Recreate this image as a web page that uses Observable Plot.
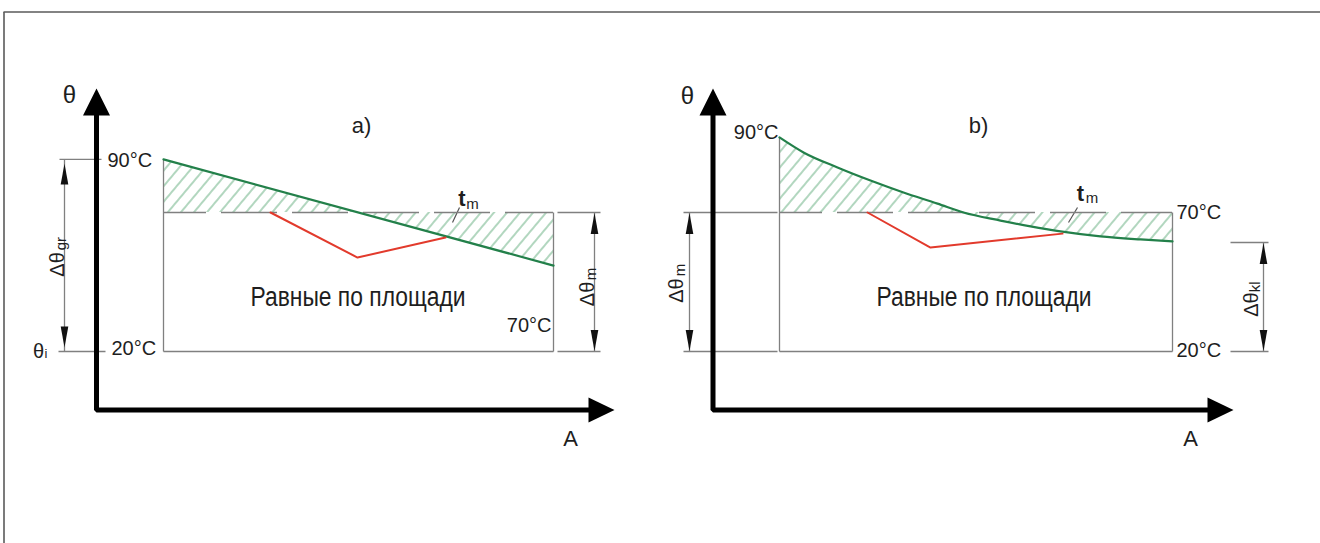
<!DOCTYPE html>
<html>
<head>
<meta charset="utf-8">
<script src="https://cdn.jsdelivr.net/npm/d3@7"></script>
<script src="https://cdn.jsdelivr.net/npm/@observablehq/plot@0.6"></script>
<style>
  html, body { margin: 0; padding: 0; background: #fff; }
  #chart svg { display: block; }
</style>
</head>
<body>
<div id="chart"></div>
<script>
// ---------- values (A = position, T = temperature °C on the drawn scale) ----------
const tm = 70;        // mean temperature line tm
const thetaI = 20;    // θi
const axisT = -1.0;   // level of the A axis
const topT = 106;     // top of the θ axis shaft

// a) linear cooling curve and red comparison line
const greenA = [{A: 163, T: 89.1}, {A: 553, T: 50.9}];
const redA = [{A: 270, T: 70}, {A: 357, T: 53.8}, {A: 445, T: 61.0}];

// b) decaying cooling curve and red comparison line
const greenB = [
  {A: 779, T: 97.0}, {A: 803, T: 91.6}, {A: 837, T: 86.2}, {A: 870, T: 81.5},
  {A: 903, T: 77.2}, {A: 937, T: 73.2}, {A: 963, T: 70.0}, {A: 1000, T: 67.1},
  {A: 1030, T: 65.0}, {A: 1060, T: 63.2}, {A: 1100, T: 61.4}, {A: 1140, T: 60.3},
  {A: 1172, T: 59.6}
];
const redB = [{A: 867, T: 70}, {A: 930, T: 57.4}, {A: 1062, T: 62.4}];

// main axes (polylines: θ axis down to the corner, then along A)
const axes = [
  {p: "a", A: 96, T: topT}, {p: "a", A: 96, T: axisT}, {p: "a", A: 592, T: axisT},
  {p: "b", A: 712.5, T: topT}, {p: "b", A: 712.5, T: axisT}, {p: "b", A: 1210, T: axisT}
];
const axisTipsUp = [{A: 96, T: 114.6}, {A: 712.5, T: 114.6}];
const axisTipsRight = [{A: 614, T: axisT}, {A: 1233, T: axisT}];

// box edges
const boxEdges = [
  {x1: 163, y1: 89.1, x2: 163, y2: thetaI}, {x1: 163, y1: thetaI, x2: 553, y2: thetaI},
  {x1: 553, y1: tm, x2: 553, y2: thetaI},
  {x1: 779, y1: 97.0, x2: 779, y2: thetaI}, {x1: 779, y1: thetaI, x2: 1172, y2: thetaI},
  {x1: 1172, y1: tm, x2: 1172, y2: thetaI}
];
// extension lines
const extLines = [
  {x1: 59, y1: 89.1, x2: 101, y2: 89.1}, {x1: 58, y1: thetaI, x2: 105, y2: thetaI},
  {x1: 557, y1: tm, x2: 600, y2: tm}, {x1: 557, y1: thetaI, x2: 600, y2: thetaI},
  {x1: 683, y1: tm, x2: 777, y2: tm}, {x1: 683, y1: thetaI, x2: 777, y2: thetaI},
  {x1: 1230, y1: 59.2, x2: 1268, y2: 59.2}, {x1: 1230, y1: thetaI, x2: 1268, y2: thetaI}
];
// dimension lines
const dimLines = [
  {x1: 64, y1: 89.1, x2: 64, y2: thetaI}, {x1: 594, y1: tm, x2: 594, y2: thetaI},
  {x1: 689, y1: tm, x2: 689, y2: thetaI}, {x1: 1263, y1: 59.2, x2: 1263, y2: thetaI}
];
const dimTipsUp = [{A: 64, T: 87.6}, {A: 594, T: 69.8}, {A: 689, T: 69.8}, {A: 1263, T: 59.0}];
const dimTipsDown = [{A: 64, T: 21.4}, {A: 594, T: 20.2}, {A: 689, T: 20.2}, {A: 1263, T: 20.2}];
// tm leader strokes
const leaders = [{x1: 452, y1: 66.4, x2: 459, y2: 71.8}, {x1: 1068, y1: 66.4, x2: 1077, y2: 71.8}];
// mean-temperature lines
const tmLines = [{x1: 163, x2: 553}, {x1: 779, x2: 1172}];

// ---------- texts ----------
const tempStart = [
  {A: 107, T: 88.7, s: "90°C"}, {A: 111, T: 20.9, s: "20°C"},
  {A: 1176, T: 70.0, s: "70°C"}, {A: 1176, T: 20.2, s: "20°C"}
];
const tempEnd = [{A: 551, T: 29.2, s: "70°C"}, {A: 778, T: 98.8, s: "90°C"}];
const axisNames = [{A: 69, T: 112.1, s: "θ"}, {A: 687, T: 111.9, s: "θ"}];
const axisNamesA = [{A: 570, T: -11.3, s: "A"}, {A: 1190, T: -11.3, s: "A"}];
const panelTitles = [{A: 361, T: 101.3, s: "a)"}, {A: 978, T: 101.3, s: "b)"}];
const areaNotes = [{A: 357.5, T: 39.4, s: "Равные по площади"}, {A: 983.5, T: 39.4, s: "Равные по площади"}];
const dimSymbols = [
  {A: 57.5, T: 51.3, s: "Δθ"}, {A: 587.5, T: 40.7, s: "Δθ"},
  {A: 676, T: 41.9, s: "Δθ"}, {A: 1251, T: 36.9, s: "Δθ"}
];
const dimSubs = [
  {A: 61, T: 58.8, s: "gr"}, {A: 591, T: 47.9, s: "m"},
  {A: 680, T: 49.3, s: "m"}, {A: 1255, T: 43.3, s: "kl"}
];
const thetaIMain = [{A: 38, T: 20.1, s: "θ"}];
const thetaISub = [{A: 45.5, T: 19.1, s: "i"}];
const tmMain = [{A: 461.5, T: 74.7, s: "t"}, {A: 1080, T: 76.5, s: "t"}];
const tmSub = [{A: 472, T: 72.9, s: "m"}, {A: 1091.5, T: 75.0, s: "m"}];
const frameTop = [{x1: 3, y1: 142.1, x2: 1320, y2: 142.1}, {x1: 3.5, y1: 142.1, x2: 3.5, y2: -49.1}];

// ---------- symbols ----------
const bigUp = {draw(c) { c.moveTo(0, 0); c.lineTo(-13.5, 27); c.lineTo(13.5, 27); c.closePath(); }};
const bigRight = {draw(c) { c.moveTo(0, 0); c.lineTo(-26, -12.5); c.lineTo(-26, 12.5); c.closePath(); }};
const smallUp = {draw(c) { c.moveTo(0, 0); c.lineTo(-3.8, 21); c.lineTo(3.8, 21); c.closePath(); }};
const smallDown = {draw(c) { c.moveTo(0, 0); c.lineTo(-3.8, -21); c.lineTo(3.8, -21); c.closePath(); }};

const ink = "#1e1e1e";
const gray = "#808080";
const green = "#23804a";
const red = "#e23a2c";
const seg = {x1: "x1", y1: "y1", x2: "x2", y2: "y2"};
const txt = {x: "A", y: "T", text: "s", fill: ink};

const svg = Plot.plot({
  width: 1320,
  height: 543,
  margin: 0,
  x: {domain: [0, 1320], range: [0, 1320], axis: null},
  y: {domain: [20, 70], range: [351, 212], axis: null},
  style: {fontFamily: "'Liberation Sans', Arial, sans-serif", background: "#fff", overflow: "visible"},
  marks: [
    Plot.link(frameTop, {...seg, stroke: "#5a5a5a", strokeWidth: 1.6}),
    // hatched areas between cooling curve and tm
    Plot.areaY(greenA, {x: "A", y1: tm, y2: "T", fill: "url(#hatch)"}),
    Plot.areaY(greenB, {x: "A", y1: tm, y2: "T", curve: "monotone-x", fill: "url(#hatch)"}),
    // thin construction lines
    Plot.link(boxEdges, {...seg, stroke: gray, strokeWidth: 1.3}),
    Plot.link(extLines, {...seg, stroke: gray, strokeWidth: 1.3}),
    Plot.link(dimLines, {...seg, stroke: gray, strokeWidth: 1.3}),
    Plot.link(leaders, {...seg, stroke: "#555", strokeWidth: 1.2}),
    Plot.ruleY(tmLines, {y: () => tm, x1: "x1", x2: "x2", stroke: gray, strokeWidth: 1.4, strokeDasharray: "56,15", strokeDashoffset: 13}),
    // curves
    Plot.line(greenA, {x: "A", y: "T", stroke: green, strokeWidth: 2.2}),
    Plot.line(greenB, {x: "A", y: "T", curve: "monotone-x", stroke: green, strokeWidth: 2.2}),
    Plot.line(redA, {x: "A", y: "T", stroke: red, strokeWidth: 2}),
    Plot.line(redB, {x: "A", y: "T", stroke: red, strokeWidth: 2}),
    // main axes
    Plot.line(axes, {x: "A", y: "T", z: "p", stroke: "#000", strokeWidth: 5, strokeLinejoin: "miter"}),
    Plot.dot(axisTipsUp, {x: "A", y: "T", symbol: bigUp, fill: "#000", stroke: "none"}),
    Plot.dot(axisTipsRight, {x: "A", y: "T", symbol: bigRight, fill: "#000", stroke: "none"}),
    Plot.dot(dimTipsUp, {x: "A", y: "T", symbol: smallUp, fill: "#111", stroke: "none"}),
    Plot.dot(dimTipsDown, {x: "A", y: "T", symbol: smallDown, fill: "#111", stroke: "none"}),
    // texts
    Plot.text(tempStart, {...txt, textAnchor: "start", fontSize: 20}),
    Plot.text(tempEnd, {...txt, textAnchor: "end", fontSize: 20}),
    Plot.text(axisNames, {...txt, fontSize: 24}),
    Plot.text(axisNamesA, {...txt, fontSize: 22}),
    Plot.text(panelTitles, {...txt, fontSize: 22}),
    Plot.text(areaNotes, {...txt, fontSize: 27}),
    Plot.text(dimSymbols, {...txt, rotate: -90, fontSize: 20}),
    Plot.text(dimSubs, {...txt, rotate: -90, fontSize: 15}),
    Plot.text(thetaIMain, {...txt, fontSize: 20}),
    Plot.text(thetaISub, {...txt, fontSize: 13}),
    Plot.text(tmMain, {...txt, fontSize: 22, fontWeight: 600}),
    Plot.text(tmSub, {...txt, fontSize: 15})
  ]
});

// hatch pattern definition
const defs = d3.select(svg).insert("defs", ":first-child");
const pat = defs.append("pattern")
  .attr("id", "hatch")
  .attr("patternUnits", "userSpaceOnUse")
  .attr("width", 10).attr("height", 10)
  .attr("patternTransform", "rotate(40)");
pat.append("line")
  .attr("x1", 5).attr("y1", 0).attr("x2", 5).attr("y2", 10)
  .attr("stroke", "#72b58a").attr("stroke-width", 1.1);

// condensed look of the area note
d3.select(svg).selectAll("text")
  .filter(function () { return this.textContent === "Равные по площади"; })
  .attr("textLength", 215)
  .attr("lengthAdjust", "spacingAndGlyphs");

document.getElementById("chart").appendChild(svg);
</script>
</body>
</html>
